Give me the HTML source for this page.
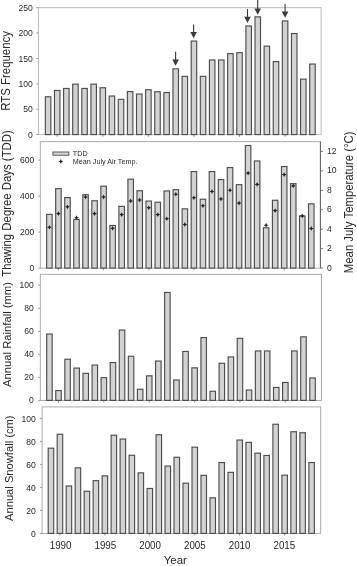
<!DOCTYPE html>
<html lang="en"><head><meta charset="utf-8"><title>RTS frequency and climate, 1989-2018</title>
<style>html,body{margin:0;padding:0;background:#fff;}svg{display:block;will-change:transform;}text{font-family:"Liberation Sans", Arial, sans-serif;fill:#2a2a2a;}</style></head><body>
<svg width="357" height="566" viewBox="0 0 357 566">
<rect width="357" height="566" fill="#ffffff"/>
<defs><filter id="soft" x="0" y="0" width="357" height="566" filterUnits="userSpaceOnUse"><feGaussianBlur stdDeviation="0.38"/></filter></defs>
<g filter="url(#soft)">
<g>
<rect x="38.40" y="7.70" width="282.70" height="126.90" fill="none" stroke="#b4b4b4" stroke-width="0.9"/>
<line x1="36.40" y1="134.50" x2="38.40" y2="134.50" stroke="#8a8a8a" stroke-width="0.9"/>
<text transform="translate(32.80 137.70) scale(1 1.050)" font-size="8.60" text-anchor="end">0</text>
<line x1="36.40" y1="109.20" x2="38.40" y2="109.20" stroke="#8a8a8a" stroke-width="0.9"/>
<text transform="translate(32.80 112.40) scale(1 1.050)" font-size="8.60" text-anchor="end">50</text>
<line x1="36.40" y1="83.90" x2="38.40" y2="83.90" stroke="#8a8a8a" stroke-width="0.9"/>
<text transform="translate(32.80 87.10) scale(1 1.050)" font-size="8.60" text-anchor="end">100</text>
<line x1="36.40" y1="58.50" x2="38.40" y2="58.50" stroke="#8a8a8a" stroke-width="0.9"/>
<text transform="translate(32.80 61.70) scale(1 1.050)" font-size="8.60" text-anchor="end">150</text>
<line x1="36.40" y1="33.00" x2="38.40" y2="33.00" stroke="#8a8a8a" stroke-width="0.9"/>
<text transform="translate(32.80 36.20) scale(1 1.050)" font-size="8.60" text-anchor="end">200</text>
<line x1="36.40" y1="7.70" x2="38.40" y2="7.70" stroke="#8a8a8a" stroke-width="0.9"/>
<text transform="translate(32.80 10.90) scale(1 1.050)" font-size="8.60" text-anchor="end">250</text>
<line x1="57.22" y1="134.60" x2="57.22" y2="136.80" stroke="#8a8a8a" stroke-width="0.9"/>
<line x1="102.79" y1="134.60" x2="102.79" y2="136.80" stroke="#8a8a8a" stroke-width="0.9"/>
<line x1="148.37" y1="134.60" x2="148.37" y2="136.80" stroke="#8a8a8a" stroke-width="0.9"/>
<line x1="193.95" y1="134.60" x2="193.95" y2="136.80" stroke="#8a8a8a" stroke-width="0.9"/>
<line x1="239.53" y1="134.60" x2="239.53" y2="136.80" stroke="#8a8a8a" stroke-width="0.9"/>
<line x1="285.10" y1="134.60" x2="285.10" y2="136.80" stroke="#8a8a8a" stroke-width="0.9"/>
<rect x="45.35" y="96.75" width="5.5" height="37.85" fill="#d3d3d3" stroke="#4e4e4e" stroke-width="1.15"/>
<rect x="54.47" y="90.45" width="5.5" height="44.15" fill="#d3d3d3" stroke="#4e4e4e" stroke-width="1.15"/>
<rect x="63.58" y="88.45" width="5.5" height="46.15" fill="#d3d3d3" stroke="#4e4e4e" stroke-width="1.15"/>
<rect x="72.70" y="84.15" width="5.5" height="50.45" fill="#d3d3d3" stroke="#4e4e4e" stroke-width="1.15"/>
<rect x="81.81" y="88.45" width="5.5" height="46.15" fill="#d3d3d3" stroke="#4e4e4e" stroke-width="1.15"/>
<rect x="90.93" y="84.15" width="5.5" height="50.45" fill="#d3d3d3" stroke="#4e4e4e" stroke-width="1.15"/>
<rect x="100.04" y="87.75" width="5.5" height="46.85" fill="#d3d3d3" stroke="#4e4e4e" stroke-width="1.15"/>
<rect x="109.16" y="96.05" width="5.5" height="38.55" fill="#d3d3d3" stroke="#4e4e4e" stroke-width="1.15"/>
<rect x="118.27" y="99.35" width="5.5" height="35.25" fill="#d3d3d3" stroke="#4e4e4e" stroke-width="1.15"/>
<rect x="127.39" y="91.55" width="5.5" height="43.05" fill="#d3d3d3" stroke="#4e4e4e" stroke-width="1.15"/>
<rect x="136.51" y="94.05" width="5.5" height="40.55" fill="#d3d3d3" stroke="#4e4e4e" stroke-width="1.15"/>
<rect x="145.62" y="89.75" width="5.5" height="44.85" fill="#d3d3d3" stroke="#4e4e4e" stroke-width="1.15"/>
<rect x="154.74" y="91.75" width="5.5" height="42.85" fill="#d3d3d3" stroke="#4e4e4e" stroke-width="1.15"/>
<rect x="163.85" y="92.55" width="5.5" height="42.05" fill="#d3d3d3" stroke="#4e4e4e" stroke-width="1.15"/>
<rect x="172.97" y="68.85" width="5.5" height="65.75" fill="#d3d3d3" stroke="#4e4e4e" stroke-width="1.15"/>
<rect x="182.08" y="76.35" width="5.5" height="58.25" fill="#d3d3d3" stroke="#4e4e4e" stroke-width="1.15"/>
<rect x="191.20" y="41.05" width="5.5" height="93.55" fill="#d3d3d3" stroke="#4e4e4e" stroke-width="1.15"/>
<rect x="200.31" y="76.35" width="5.5" height="58.25" fill="#d3d3d3" stroke="#4e4e4e" stroke-width="1.15"/>
<rect x="209.43" y="59.95" width="5.5" height="74.65" fill="#d3d3d3" stroke="#4e4e4e" stroke-width="1.15"/>
<rect x="218.54" y="59.95" width="5.5" height="74.65" fill="#d3d3d3" stroke="#4e4e4e" stroke-width="1.15"/>
<rect x="227.66" y="53.65" width="5.5" height="80.95" fill="#d3d3d3" stroke="#4e4e4e" stroke-width="1.15"/>
<rect x="236.78" y="52.65" width="5.5" height="81.95" fill="#d3d3d3" stroke="#4e4e4e" stroke-width="1.15"/>
<rect x="245.89" y="25.95" width="5.5" height="108.65" fill="#d3d3d3" stroke="#4e4e4e" stroke-width="1.15"/>
<rect x="255.01" y="16.85" width="5.5" height="117.75" fill="#d3d3d3" stroke="#4e4e4e" stroke-width="1.15"/>
<rect x="264.12" y="46.15" width="5.5" height="88.45" fill="#d3d3d3" stroke="#4e4e4e" stroke-width="1.15"/>
<rect x="273.24" y="61.55" width="5.5" height="73.05" fill="#d3d3d3" stroke="#4e4e4e" stroke-width="1.15"/>
<rect x="282.35" y="20.95" width="5.5" height="113.65" fill="#d3d3d3" stroke="#4e4e4e" stroke-width="1.15"/>
<rect x="291.47" y="33.55" width="5.5" height="101.05" fill="#d3d3d3" stroke="#4e4e4e" stroke-width="1.15"/>
<rect x="300.58" y="79.15" width="5.5" height="55.45" fill="#d3d3d3" stroke="#4e4e4e" stroke-width="1.15"/>
<rect x="309.70" y="64.05" width="5.5" height="70.55" fill="#d3d3d3" stroke="#4e4e4e" stroke-width="1.15"/>
<text transform="translate(9.80 70.90) rotate(-90) scale(1 1.050)" font-size="11.42" text-anchor="middle">RTS Frequency</text>
</g>
<g>
<rect x="40.30" y="141.70" width="280.10" height="126.40" fill="none" stroke="#a2a2a2" stroke-width="0.9"/>
<line x1="38.30" y1="268.10" x2="40.30" y2="268.10" stroke="#8a8a8a" stroke-width="0.9"/>
<text transform="translate(34.40 271.10) scale(1 1.050)" font-size="8.60" text-anchor="end">0</text>
<line x1="38.30" y1="232.10" x2="40.30" y2="232.10" stroke="#8a8a8a" stroke-width="0.9"/>
<text transform="translate(34.40 235.10) scale(1 1.050)" font-size="8.60" text-anchor="end">200</text>
<line x1="38.30" y1="196.10" x2="40.30" y2="196.10" stroke="#8a8a8a" stroke-width="0.9"/>
<text transform="translate(34.40 199.10) scale(1 1.050)" font-size="8.60" text-anchor="end">400</text>
<line x1="38.30" y1="160.10" x2="40.30" y2="160.10" stroke="#8a8a8a" stroke-width="0.9"/>
<text transform="translate(34.40 163.10) scale(1 1.050)" font-size="8.60" text-anchor="end">600</text>
<line x1="58.43" y1="268.10" x2="58.43" y2="270.30" stroke="#8a8a8a" stroke-width="0.9"/>
<line x1="103.59" y1="268.10" x2="103.59" y2="270.30" stroke="#8a8a8a" stroke-width="0.9"/>
<line x1="148.74" y1="268.10" x2="148.74" y2="270.30" stroke="#8a8a8a" stroke-width="0.9"/>
<line x1="193.90" y1="268.10" x2="193.90" y2="270.30" stroke="#8a8a8a" stroke-width="0.9"/>
<line x1="239.05" y1="268.10" x2="239.05" y2="270.30" stroke="#8a8a8a" stroke-width="0.9"/>
<line x1="284.21" y1="268.10" x2="284.21" y2="270.30" stroke="#8a8a8a" stroke-width="0.9"/>
<rect x="46.65" y="214.35" width="5.5" height="53.75" fill="#d3d3d3" stroke="#4e4e4e" stroke-width="1.15"/>
<rect x="55.68" y="188.65" width="5.5" height="79.45" fill="#d3d3d3" stroke="#4e4e4e" stroke-width="1.15"/>
<rect x="64.71" y="197.55" width="5.5" height="70.55" fill="#d3d3d3" stroke="#4e4e4e" stroke-width="1.15"/>
<rect x="73.74" y="219.45" width="5.5" height="48.65" fill="#d3d3d3" stroke="#4e4e4e" stroke-width="1.15"/>
<rect x="82.77" y="194.75" width="5.5" height="73.35" fill="#d3d3d3" stroke="#4e4e4e" stroke-width="1.15"/>
<rect x="91.81" y="200.75" width="5.5" height="67.35" fill="#d3d3d3" stroke="#4e4e4e" stroke-width="1.15"/>
<rect x="100.84" y="186.15" width="5.5" height="81.95" fill="#d3d3d3" stroke="#4e4e4e" stroke-width="1.15"/>
<rect x="109.87" y="225.45" width="5.5" height="42.65" fill="#d3d3d3" stroke="#4e4e4e" stroke-width="1.15"/>
<rect x="118.90" y="206.35" width="5.5" height="61.75" fill="#d3d3d3" stroke="#4e4e4e" stroke-width="1.15"/>
<rect x="127.93" y="179.15" width="5.5" height="88.95" fill="#d3d3d3" stroke="#4e4e4e" stroke-width="1.15"/>
<rect x="136.96" y="190.75" width="5.5" height="77.35" fill="#d3d3d3" stroke="#4e4e4e" stroke-width="1.15"/>
<rect x="145.99" y="201.05" width="5.5" height="67.05" fill="#d3d3d3" stroke="#4e4e4e" stroke-width="1.15"/>
<rect x="155.02" y="202.25" width="5.5" height="65.85" fill="#d3d3d3" stroke="#4e4e4e" stroke-width="1.15"/>
<rect x="164.05" y="190.95" width="5.5" height="77.15" fill="#d3d3d3" stroke="#4e4e4e" stroke-width="1.15"/>
<rect x="173.08" y="189.65" width="5.5" height="78.45" fill="#d3d3d3" stroke="#4e4e4e" stroke-width="1.15"/>
<rect x="182.12" y="208.85" width="5.5" height="59.25" fill="#d3d3d3" stroke="#4e4e4e" stroke-width="1.15"/>
<rect x="191.15" y="171.55" width="5.5" height="96.55" fill="#d3d3d3" stroke="#4e4e4e" stroke-width="1.15"/>
<rect x="200.18" y="199.25" width="5.5" height="68.85" fill="#d3d3d3" stroke="#4e4e4e" stroke-width="1.15"/>
<rect x="209.21" y="171.55" width="5.5" height="96.55" fill="#d3d3d3" stroke="#4e4e4e" stroke-width="1.15"/>
<rect x="218.24" y="179.65" width="5.5" height="88.45" fill="#d3d3d3" stroke="#4e4e4e" stroke-width="1.15"/>
<rect x="227.27" y="167.55" width="5.5" height="100.55" fill="#d3d3d3" stroke="#4e4e4e" stroke-width="1.15"/>
<rect x="236.30" y="184.65" width="5.5" height="83.45" fill="#d3d3d3" stroke="#4e4e4e" stroke-width="1.15"/>
<rect x="245.33" y="145.55" width="5.5" height="122.55" fill="#d3d3d3" stroke="#4e4e4e" stroke-width="1.15"/>
<rect x="254.36" y="160.95" width="5.5" height="107.15" fill="#d3d3d3" stroke="#4e4e4e" stroke-width="1.15"/>
<rect x="263.39" y="227.75" width="5.5" height="40.35" fill="#d3d3d3" stroke="#4e4e4e" stroke-width="1.15"/>
<rect x="272.43" y="200.25" width="5.5" height="67.85" fill="#d3d3d3" stroke="#4e4e4e" stroke-width="1.15"/>
<rect x="281.46" y="166.55" width="5.5" height="101.55" fill="#d3d3d3" stroke="#4e4e4e" stroke-width="1.15"/>
<rect x="290.49" y="183.65" width="5.5" height="84.45" fill="#d3d3d3" stroke="#4e4e4e" stroke-width="1.15"/>
<rect x="299.52" y="215.95" width="5.5" height="52.15" fill="#d3d3d3" stroke="#4e4e4e" stroke-width="1.15"/>
<rect x="308.55" y="203.85" width="5.5" height="64.25" fill="#d3d3d3" stroke="#4e4e4e" stroke-width="1.15"/>
<text transform="translate(11.40 203.50) rotate(-90) scale(1 1.050)" font-size="11.38" text-anchor="middle">Thawing Degree Days (TDD)</text>
</g>
<g>
<rect x="40.30" y="274.30" width="281.20" height="126.10" fill="none" stroke="#a2a2a2" stroke-width="0.9"/>
<line x1="38.30" y1="400.60" x2="40.30" y2="400.60" stroke="#8a8a8a" stroke-width="0.9"/>
<text transform="translate(33.80 403.40) scale(1 1.050)" font-size="8.60" text-anchor="end">0</text>
<line x1="38.30" y1="377.50" x2="40.30" y2="377.50" stroke="#8a8a8a" stroke-width="0.9"/>
<text transform="translate(33.80 380.30) scale(1 1.050)" font-size="8.60" text-anchor="end">20</text>
<line x1="38.30" y1="354.40" x2="40.30" y2="354.40" stroke="#8a8a8a" stroke-width="0.9"/>
<text transform="translate(33.80 357.20) scale(1 1.050)" font-size="8.60" text-anchor="end">40</text>
<line x1="38.30" y1="331.40" x2="40.30" y2="331.40" stroke="#8a8a8a" stroke-width="0.9"/>
<text transform="translate(33.80 334.20) scale(1 1.050)" font-size="8.60" text-anchor="end">60</text>
<line x1="38.30" y1="308.30" x2="40.30" y2="308.30" stroke="#8a8a8a" stroke-width="0.9"/>
<text transform="translate(33.80 311.10) scale(1 1.050)" font-size="8.60" text-anchor="end">80</text>
<line x1="38.30" y1="285.30" x2="40.30" y2="285.30" stroke="#8a8a8a" stroke-width="0.9"/>
<text transform="translate(33.80 288.10) scale(1 1.050)" font-size="8.60" text-anchor="end">100</text>
<line x1="58.52" y1="400.40" x2="58.52" y2="402.60" stroke="#8a8a8a" stroke-width="0.9"/>
<line x1="103.88" y1="400.40" x2="103.88" y2="402.60" stroke="#8a8a8a" stroke-width="0.9"/>
<line x1="149.25" y1="400.40" x2="149.25" y2="402.60" stroke="#8a8a8a" stroke-width="0.9"/>
<line x1="194.61" y1="400.40" x2="194.61" y2="402.60" stroke="#8a8a8a" stroke-width="0.9"/>
<line x1="239.97" y1="400.40" x2="239.97" y2="402.60" stroke="#8a8a8a" stroke-width="0.9"/>
<line x1="285.33" y1="400.40" x2="285.33" y2="402.60" stroke="#8a8a8a" stroke-width="0.9"/>
<rect x="46.70" y="334.05" width="5.5" height="66.35" fill="#d3d3d3" stroke="#4e4e4e" stroke-width="1.15"/>
<rect x="55.77" y="390.55" width="5.5" height="9.85" fill="#d3d3d3" stroke="#4e4e4e" stroke-width="1.15"/>
<rect x="64.84" y="359.25" width="5.5" height="41.15" fill="#d3d3d3" stroke="#4e4e4e" stroke-width="1.15"/>
<rect x="73.92" y="368.05" width="5.5" height="32.35" fill="#d3d3d3" stroke="#4e4e4e" stroke-width="1.15"/>
<rect x="82.99" y="373.35" width="5.5" height="27.05" fill="#d3d3d3" stroke="#4e4e4e" stroke-width="1.15"/>
<rect x="92.06" y="365.05" width="5.5" height="35.35" fill="#d3d3d3" stroke="#4e4e4e" stroke-width="1.15"/>
<rect x="101.13" y="377.65" width="5.5" height="22.75" fill="#d3d3d3" stroke="#4e4e4e" stroke-width="1.15"/>
<rect x="110.21" y="362.55" width="5.5" height="37.85" fill="#d3d3d3" stroke="#4e4e4e" stroke-width="1.15"/>
<rect x="119.28" y="330.05" width="5.5" height="70.35" fill="#d3d3d3" stroke="#4e4e4e" stroke-width="1.15"/>
<rect x="128.35" y="356.25" width="5.5" height="44.15" fill="#d3d3d3" stroke="#4e4e4e" stroke-width="1.15"/>
<rect x="137.42" y="389.25" width="5.5" height="11.15" fill="#d3d3d3" stroke="#4e4e4e" stroke-width="1.15"/>
<rect x="146.50" y="375.85" width="5.5" height="24.55" fill="#d3d3d3" stroke="#4e4e4e" stroke-width="1.15"/>
<rect x="155.57" y="361.05" width="5.5" height="39.35" fill="#d3d3d3" stroke="#4e4e4e" stroke-width="1.15"/>
<rect x="164.64" y="292.45" width="5.5" height="107.95" fill="#d3d3d3" stroke="#4e4e4e" stroke-width="1.15"/>
<rect x="173.71" y="379.95" width="5.5" height="20.45" fill="#d3d3d3" stroke="#4e4e4e" stroke-width="1.15"/>
<rect x="182.79" y="351.45" width="5.5" height="48.95" fill="#d3d3d3" stroke="#4e4e4e" stroke-width="1.15"/>
<rect x="191.86" y="367.85" width="5.5" height="32.55" fill="#d3d3d3" stroke="#4e4e4e" stroke-width="1.15"/>
<rect x="200.93" y="337.55" width="5.5" height="62.85" fill="#d3d3d3" stroke="#4e4e4e" stroke-width="1.15"/>
<rect x="210.00" y="391.25" width="5.5" height="9.15" fill="#d3d3d3" stroke="#4e4e4e" stroke-width="1.15"/>
<rect x="219.08" y="363.25" width="5.5" height="37.15" fill="#d3d3d3" stroke="#4e4e4e" stroke-width="1.15"/>
<rect x="228.15" y="356.95" width="5.5" height="43.45" fill="#d3d3d3" stroke="#4e4e4e" stroke-width="1.15"/>
<rect x="237.22" y="338.35" width="5.5" height="62.05" fill="#d3d3d3" stroke="#4e4e4e" stroke-width="1.15"/>
<rect x="246.29" y="390.05" width="5.5" height="10.35" fill="#d3d3d3" stroke="#4e4e4e" stroke-width="1.15"/>
<rect x="255.37" y="350.95" width="5.5" height="49.45" fill="#d3d3d3" stroke="#4e4e4e" stroke-width="1.15"/>
<rect x="264.44" y="350.95" width="5.5" height="49.45" fill="#d3d3d3" stroke="#4e4e4e" stroke-width="1.15"/>
<rect x="273.51" y="387.45" width="5.5" height="12.95" fill="#d3d3d3" stroke="#4e4e4e" stroke-width="1.15"/>
<rect x="282.58" y="382.45" width="5.5" height="17.95" fill="#d3d3d3" stroke="#4e4e4e" stroke-width="1.15"/>
<rect x="291.66" y="350.95" width="5.5" height="49.45" fill="#d3d3d3" stroke="#4e4e4e" stroke-width="1.15"/>
<rect x="300.73" y="336.85" width="5.5" height="63.55" fill="#d3d3d3" stroke="#4e4e4e" stroke-width="1.15"/>
<rect x="309.80" y="377.95" width="5.5" height="22.45" fill="#d3d3d3" stroke="#4e4e4e" stroke-width="1.15"/>
<text transform="translate(11.40 334.50) rotate(-90) scale(1 1.050)" font-size="11.24" text-anchor="middle">Annual Rainfall (mm)</text>
</g>
<g>
<rect x="42.10" y="406.90" width="278.60" height="126.50" fill="none" stroke="#a2a2a2" stroke-width="0.9"/>
<line x1="40.10" y1="533.40" x2="42.10" y2="533.40" stroke="#8a8a8a" stroke-width="0.9"/>
<text transform="translate(35.90 536.70) scale(1 1.050)" font-size="8.60" text-anchor="end">0</text>
<line x1="40.10" y1="510.40" x2="42.10" y2="510.40" stroke="#8a8a8a" stroke-width="0.9"/>
<text transform="translate(35.90 513.70) scale(1 1.050)" font-size="8.60" text-anchor="end">20</text>
<line x1="40.10" y1="487.40" x2="42.10" y2="487.40" stroke="#8a8a8a" stroke-width="0.9"/>
<text transform="translate(35.90 490.70) scale(1 1.050)" font-size="8.60" text-anchor="end">40</text>
<line x1="40.10" y1="464.40" x2="42.10" y2="464.40" stroke="#8a8a8a" stroke-width="0.9"/>
<text transform="translate(35.90 467.70) scale(1 1.050)" font-size="8.60" text-anchor="end">60</text>
<line x1="40.10" y1="441.40" x2="42.10" y2="441.40" stroke="#8a8a8a" stroke-width="0.9"/>
<text transform="translate(35.90 444.70) scale(1 1.050)" font-size="8.60" text-anchor="end">80</text>
<line x1="40.10" y1="418.40" x2="42.10" y2="418.40" stroke="#8a8a8a" stroke-width="0.9"/>
<text transform="translate(35.90 421.70) scale(1 1.050)" font-size="8.60" text-anchor="end">100</text>
<line x1="59.94" y1="533.40" x2="59.94" y2="535.60" stroke="#8a8a8a" stroke-width="0.9"/>
<line x1="104.88" y1="533.40" x2="104.88" y2="535.60" stroke="#8a8a8a" stroke-width="0.9"/>
<line x1="149.82" y1="533.40" x2="149.82" y2="535.60" stroke="#8a8a8a" stroke-width="0.9"/>
<line x1="194.76" y1="533.40" x2="194.76" y2="535.60" stroke="#8a8a8a" stroke-width="0.9"/>
<line x1="239.70" y1="533.40" x2="239.70" y2="535.60" stroke="#8a8a8a" stroke-width="0.9"/>
<line x1="284.64" y1="533.40" x2="284.64" y2="535.60" stroke="#8a8a8a" stroke-width="0.9"/>
<rect x="48.20" y="448.15" width="5.5" height="85.25" fill="#d3d3d3" stroke="#4e4e4e" stroke-width="1.15"/>
<rect x="57.19" y="434.25" width="5.5" height="99.15" fill="#d3d3d3" stroke="#4e4e4e" stroke-width="1.15"/>
<rect x="66.18" y="485.95" width="5.5" height="47.45" fill="#d3d3d3" stroke="#4e4e4e" stroke-width="1.15"/>
<rect x="75.16" y="467.85" width="5.5" height="65.55" fill="#d3d3d3" stroke="#4e4e4e" stroke-width="1.15"/>
<rect x="84.15" y="491.25" width="5.5" height="42.15" fill="#d3d3d3" stroke="#4e4e4e" stroke-width="1.15"/>
<rect x="93.14" y="480.65" width="5.5" height="52.75" fill="#d3d3d3" stroke="#4e4e4e" stroke-width="1.15"/>
<rect x="102.13" y="475.85" width="5.5" height="57.55" fill="#d3d3d3" stroke="#4e4e4e" stroke-width="1.15"/>
<rect x="111.12" y="435.25" width="5.5" height="98.15" fill="#d3d3d3" stroke="#4e4e4e" stroke-width="1.15"/>
<rect x="120.10" y="439.05" width="5.5" height="94.35" fill="#d3d3d3" stroke="#4e4e4e" stroke-width="1.15"/>
<rect x="129.09" y="455.25" width="5.5" height="78.15" fill="#d3d3d3" stroke="#4e4e4e" stroke-width="1.15"/>
<rect x="138.08" y="472.85" width="5.5" height="60.55" fill="#d3d3d3" stroke="#4e4e4e" stroke-width="1.15"/>
<rect x="147.07" y="488.45" width="5.5" height="44.95" fill="#d3d3d3" stroke="#4e4e4e" stroke-width="1.15"/>
<rect x="156.06" y="434.75" width="5.5" height="98.65" fill="#d3d3d3" stroke="#4e4e4e" stroke-width="1.15"/>
<rect x="165.04" y="466.05" width="5.5" height="67.35" fill="#d3d3d3" stroke="#4e4e4e" stroke-width="1.15"/>
<rect x="174.03" y="457.25" width="5.5" height="76.15" fill="#d3d3d3" stroke="#4e4e4e" stroke-width="1.15"/>
<rect x="183.02" y="483.15" width="5.5" height="50.25" fill="#d3d3d3" stroke="#4e4e4e" stroke-width="1.15"/>
<rect x="192.01" y="447.15" width="5.5" height="86.25" fill="#d3d3d3" stroke="#4e4e4e" stroke-width="1.15"/>
<rect x="200.99" y="475.35" width="5.5" height="58.05" fill="#d3d3d3" stroke="#4e4e4e" stroke-width="1.15"/>
<rect x="209.98" y="497.85" width="5.5" height="35.55" fill="#d3d3d3" stroke="#4e4e4e" stroke-width="1.15"/>
<rect x="218.97" y="462.55" width="5.5" height="70.85" fill="#d3d3d3" stroke="#4e4e4e" stroke-width="1.15"/>
<rect x="227.96" y="472.35" width="5.5" height="61.05" fill="#d3d3d3" stroke="#4e4e4e" stroke-width="1.15"/>
<rect x="236.95" y="440.05" width="5.5" height="93.35" fill="#d3d3d3" stroke="#4e4e4e" stroke-width="1.15"/>
<rect x="245.93" y="442.35" width="5.5" height="91.05" fill="#d3d3d3" stroke="#4e4e4e" stroke-width="1.15"/>
<rect x="254.92" y="453.15" width="5.5" height="80.25" fill="#d3d3d3" stroke="#4e4e4e" stroke-width="1.15"/>
<rect x="263.91" y="455.45" width="5.5" height="77.95" fill="#d3d3d3" stroke="#4e4e4e" stroke-width="1.15"/>
<rect x="272.90" y="424.25" width="5.5" height="109.15" fill="#d3d3d3" stroke="#4e4e4e" stroke-width="1.15"/>
<rect x="281.89" y="475.15" width="5.5" height="58.25" fill="#d3d3d3" stroke="#4e4e4e" stroke-width="1.15"/>
<rect x="290.87" y="431.75" width="5.5" height="101.65" fill="#d3d3d3" stroke="#4e4e4e" stroke-width="1.15"/>
<rect x="299.86" y="432.75" width="5.5" height="100.65" fill="#d3d3d3" stroke="#4e4e4e" stroke-width="1.15"/>
<rect x="308.85" y="462.55" width="5.5" height="70.85" fill="#d3d3d3" stroke="#4e4e4e" stroke-width="1.15"/>
<text transform="translate(13.10 468.20) rotate(-90) scale(1 1.050)" font-size="11.18" text-anchor="middle">Annual Snowfall (cm)</text>
</g>
<line x1="175.60" y1="51.80" x2="175.60" y2="62.80" stroke="#3a3a3a" stroke-width="1.1"/>
<path d="M172.30 59.60 L178.90 59.60 L175.60 65.80 Z" fill="#3a3a3a"/>
<line x1="193.60" y1="24.40" x2="193.60" y2="35.30" stroke="#3a3a3a" stroke-width="1.1"/>
<path d="M190.30 32.10 L196.90 32.10 L193.60 38.30 Z" fill="#3a3a3a"/>
<line x1="247.50" y1="9.00" x2="247.50" y2="20.00" stroke="#3a3a3a" stroke-width="1.1"/>
<path d="M244.20 16.80 L250.80 16.80 L247.50 23.00 Z" fill="#3a3a3a"/>
<line x1="257.70" y1="-1.00" x2="257.70" y2="11.70" stroke="#3a3a3a" stroke-width="1.1"/>
<path d="M254.40 8.50 L261.00 8.50 L257.70 14.70 Z" fill="#3a3a3a"/>
<line x1="285.10" y1="4.00" x2="285.10" y2="14.70" stroke="#3a3a3a" stroke-width="1.1"/>
<path d="M281.80 11.50 L288.40 11.50 L285.10 17.70 Z" fill="#3a3a3a"/>
<path d="M49.40 224.90 L50.20 226.50 L51.80 227.30 L50.20 228.10 L49.40 229.70 L48.60 228.10 L47.00 227.30 L48.60 226.50 Z" fill="#222"/>
<path d="M58.43 211.20 L59.23 212.80 L60.83 213.60 L59.23 214.40 L58.43 216.00 L57.63 214.40 L56.03 213.60 L57.63 212.80 Z" fill="#222"/>
<path d="M67.46 204.40 L68.26 206.00 L69.86 206.80 L68.26 207.60 L67.46 209.20 L66.66 207.60 L65.06 206.80 L66.66 206.00 Z" fill="#222"/>
<path d="M76.49 215.30 L77.29 216.90 L78.89 217.70 L77.29 218.50 L76.49 220.10 L75.69 218.50 L74.09 217.70 L75.69 216.90 Z" fill="#222"/>
<path d="M85.52 194.60 L86.32 196.20 L87.92 197.00 L86.32 197.80 L85.52 199.40 L84.72 197.80 L83.12 197.00 L84.72 196.20 Z" fill="#222"/>
<path d="M94.56 211.20 L95.36 212.80 L96.96 213.60 L95.36 214.40 L94.56 216.00 L93.76 214.40 L92.16 213.60 L93.76 212.80 Z" fill="#222"/>
<path d="M103.59 194.60 L104.39 196.20 L105.99 197.00 L104.39 197.80 L103.59 199.40 L102.79 197.80 L101.19 197.00 L102.79 196.20 Z" fill="#222"/>
<path d="M112.62 225.90 L113.42 227.50 L115.02 228.30 L113.42 229.10 L112.62 230.70 L111.82 229.10 L110.22 228.30 L111.82 227.50 Z" fill="#222"/>
<path d="M121.65 212.20 L122.45 213.80 L124.05 214.60 L122.45 215.40 L121.65 217.00 L120.85 215.40 L119.25 214.60 L120.85 213.80 Z" fill="#222"/>
<path d="M130.68 198.60 L131.48 200.20 L133.08 201.00 L131.48 201.80 L130.68 203.40 L129.88 201.80 L128.28 201.00 L129.88 200.20 Z" fill="#222"/>
<path d="M139.71 197.60 L140.51 199.20 L142.11 200.00 L140.51 200.80 L139.71 202.40 L138.91 200.80 L137.31 200.00 L138.91 199.20 Z" fill="#222"/>
<path d="M148.74 205.40 L149.54 207.00 L151.14 207.80 L149.54 208.60 L148.74 210.20 L147.94 208.60 L146.34 207.80 L147.94 207.00 Z" fill="#222"/>
<path d="M157.77 212.20 L158.57 213.80 L160.17 214.60 L158.57 215.40 L157.77 217.00 L156.97 215.40 L155.37 214.60 L156.97 213.80 Z" fill="#222"/>
<path d="M166.80 216.30 L167.60 217.90 L169.20 218.70 L167.60 219.50 L166.80 221.10 L166.00 219.50 L164.40 218.70 L166.00 217.90 Z" fill="#222"/>
<path d="M175.83 191.80 L176.63 193.40 L178.23 194.20 L176.63 195.00 L175.83 196.60 L175.03 195.00 L173.43 194.20 L175.03 193.40 Z" fill="#222"/>
<path d="M184.87 222.10 L185.67 223.70 L187.27 224.50 L185.67 225.30 L184.87 226.90 L184.07 225.30 L182.47 224.50 L184.07 223.70 Z" fill="#222"/>
<path d="M193.90 195.40 L194.70 197.00 L196.30 197.80 L194.70 198.60 L193.90 200.20 L193.10 198.60 L191.50 197.80 L193.10 197.00 Z" fill="#222"/>
<path d="M202.93 203.40 L203.73 205.00 L205.33 205.80 L203.73 206.60 L202.93 208.20 L202.13 206.60 L200.53 205.80 L202.13 205.00 Z" fill="#222"/>
<path d="M211.96 189.10 L212.76 190.70 L214.36 191.50 L212.76 192.30 L211.96 193.90 L211.16 192.30 L209.56 191.50 L211.16 190.70 Z" fill="#222"/>
<path d="M220.99 196.60 L221.79 198.20 L223.39 199.00 L221.79 199.80 L220.99 201.40 L220.19 199.80 L218.59 199.00 L220.19 198.20 Z" fill="#222"/>
<path d="M230.02 187.80 L230.82 189.40 L232.42 190.20 L230.82 191.00 L230.02 192.60 L229.22 191.00 L227.62 190.20 L229.22 189.40 Z" fill="#222"/>
<path d="M239.05 200.70 L239.85 202.30 L241.45 203.10 L239.85 203.90 L239.05 205.50 L238.25 203.90 L236.65 203.10 L238.25 202.30 Z" fill="#222"/>
<path d="M248.08 170.70 L248.88 172.30 L250.48 173.10 L248.88 173.90 L248.08 175.50 L247.28 173.90 L245.68 173.10 L247.28 172.30 Z" fill="#222"/>
<path d="M257.11 182.00 L257.91 183.60 L259.51 184.40 L257.91 185.20 L257.11 186.80 L256.31 185.20 L254.71 184.40 L256.31 183.60 Z" fill="#222"/>
<path d="M266.14 222.80 L266.94 224.40 L268.54 225.20 L266.94 226.00 L266.14 227.60 L265.34 226.00 L263.74 225.20 L265.34 224.40 Z" fill="#222"/>
<path d="M275.18 208.20 L275.98 209.80 L277.58 210.60 L275.98 211.40 L275.18 213.00 L274.38 211.40 L272.78 210.60 L274.38 209.80 Z" fill="#222"/>
<path d="M284.21 172.20 L285.01 173.80 L286.61 174.60 L285.01 175.40 L284.21 177.00 L283.41 175.40 L281.81 174.60 L283.41 173.80 Z" fill="#222"/>
<path d="M293.24 183.50 L294.04 185.10 L295.64 185.90 L294.04 186.70 L293.24 188.30 L292.44 186.70 L290.84 185.90 L292.44 185.10 Z" fill="#222"/>
<path d="M302.27 213.50 L303.07 215.10 L304.67 215.90 L303.07 216.70 L302.27 218.30 L301.47 216.70 L299.87 215.90 L301.47 215.10 Z" fill="#222"/>
<path d="M311.30 226.10 L312.10 227.70 L313.70 228.50 L312.10 229.30 L311.30 230.90 L310.50 229.30 L308.90 228.50 L310.50 227.70 Z" fill="#222"/>
<line x1="320.4" y1="141.7" x2="320.4" y2="268.1" stroke="#5a5a5a" stroke-width="0.9"/>
<line x1="320.40" y1="268.10" x2="323.00" y2="268.10" stroke="#5a5a5a" stroke-width="0.8"/>
<text transform="translate(326.90 270.70) scale(1 1.050)" font-size="8.60" text-anchor="start">0</text>
<line x1="320.40" y1="248.65" x2="323.00" y2="248.65" stroke="#5a5a5a" stroke-width="0.8"/>
<text transform="translate(326.90 251.25) scale(1 1.050)" font-size="8.60" text-anchor="start">2</text>
<line x1="320.40" y1="229.20" x2="323.00" y2="229.20" stroke="#5a5a5a" stroke-width="0.8"/>
<text transform="translate(326.90 231.80) scale(1 1.050)" font-size="8.60" text-anchor="start">4</text>
<line x1="320.40" y1="209.75" x2="323.00" y2="209.75" stroke="#5a5a5a" stroke-width="0.8"/>
<text transform="translate(326.90 212.35) scale(1 1.050)" font-size="8.60" text-anchor="start">6</text>
<line x1="320.40" y1="190.30" x2="323.00" y2="190.30" stroke="#5a5a5a" stroke-width="0.8"/>
<text transform="translate(326.90 192.90) scale(1 1.050)" font-size="8.60" text-anchor="start">8</text>
<line x1="320.40" y1="170.85" x2="323.00" y2="170.85" stroke="#5a5a5a" stroke-width="0.8"/>
<text transform="translate(326.90 173.45) scale(1 1.050)" font-size="8.60" text-anchor="start">10</text>
<line x1="320.40" y1="151.40" x2="323.00" y2="151.40" stroke="#5a5a5a" stroke-width="0.8"/>
<text transform="translate(326.90 154.00) scale(1 1.050)" font-size="8.60" text-anchor="start">12</text>
<text transform="translate(353.2 202.3) rotate(-90) scale(1 1.050)" font-size="11.36" text-anchor="middle">Mean July Temperature (°C)</text>
<rect x="52.9" y="152.0" width="16" height="3.2" fill="#d3d3d3" stroke="#4e4e4e" stroke-width="0.9"/>
<text transform="translate(72.80 155.80) scale(1 1.050)" font-size="7.20" text-anchor="start">TDD</text>
<path d="M60.80 159.10 L61.60 160.70 L63.20 161.50 L61.60 162.30 L60.80 163.90 L60.00 162.30 L58.40 161.50 L60.00 160.70 Z" fill="#222"/>
<text transform="translate(72.80 164.10) scale(1 1.050)" font-size="7.20" text-anchor="start">Mean July Air Temp.</text>
<text transform="translate(60.60 549.4) scale(1 1.05)" font-size="9.8" text-anchor="middle">1990</text>
<text transform="translate(105.35 549.4) scale(1 1.05)" font-size="9.8" text-anchor="middle">1995</text>
<text transform="translate(150.10 549.4) scale(1 1.05)" font-size="9.8" text-anchor="middle">2000</text>
<text transform="translate(194.85 549.4) scale(1 1.05)" font-size="9.8" text-anchor="middle">2005</text>
<text transform="translate(239.60 549.4) scale(1 1.05)" font-size="9.8" text-anchor="middle">2010</text>
<text transform="translate(284.35 549.4) scale(1 1.05)" font-size="9.8" text-anchor="middle">2015</text>
<text transform="translate(175.3 564.2) scale(1 0.97)" font-size="11.5" text-anchor="middle">Year</text>
</g>
</svg></body></html>
